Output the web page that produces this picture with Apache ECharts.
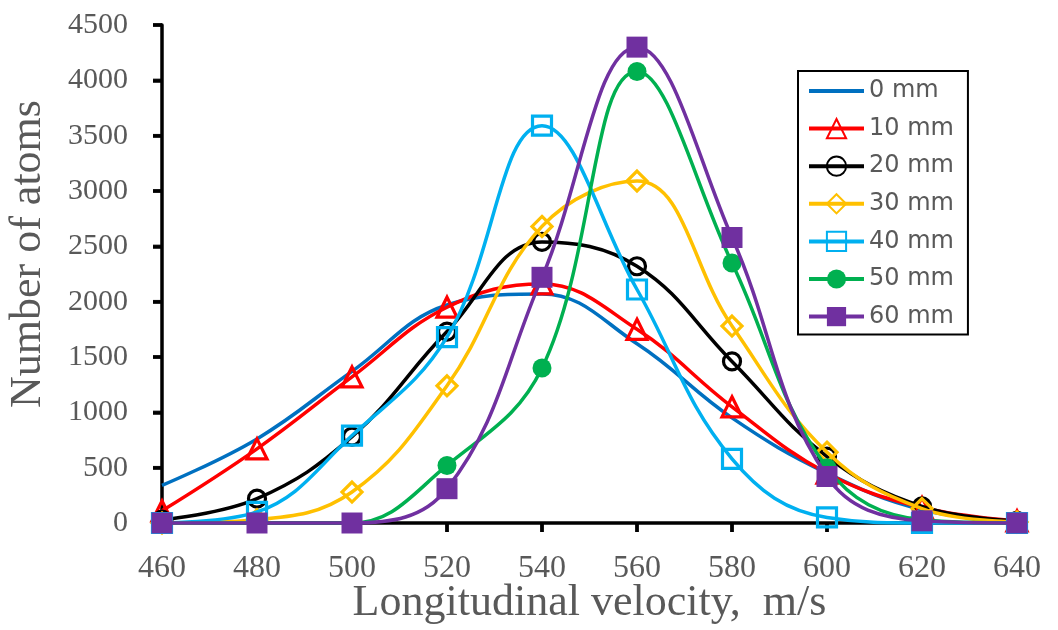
<!DOCTYPE html>
<html><head><meta charset="utf-8">
<script src="https://cdn.jsdelivr.net/npm/echarts@6/dist/echarts.min.js"></script>
<style>html,body{margin:0;padding:0;background:#fff}#c{width:1058px;height:630px}</style>
</head><body><div id="c"></div>
<script>
const velocities = [460, 480, 500, 520, 540, 560, 580, 600, 620, 640];
const names = ['0 mm', '10 mm', '20 mm', '30 mm', '40 mm', '50 mm', '60 mm'];
const mm0  = [340, 760, 1370, 1970, 2070, 1620, 950, 450, 120, 20];
const mm10 = [110, 670, 1320, 1950, 2160, 1750, 1050, 450, 140, 20];
const mm20 = [30, 220, 780, 1730, 2540, 2320, 1460, 600, 150, 20];
const mm30 = [0, 30, 280, 1240, 2680, 3090, 1780, 640, 130, 10];
const mm40 = [0, 100, 790, 1680, 3590, 2110, 580, 50, 0, 0];
const mm50 = [0, 0, 0, 520, 1400, 4080, 2350, 500, 30, 0];
const mm60 = [0, 0, 0, 310, 2220, 4300, 2580, 420, 20, 0];
const yTicks = [0, 500, 1000, 1500, 2000, 2500, 3000, 3500, 4000, 4500];

const colors = ['#0070C0', '#FF0000', '#000000', '#FFC000', '#00B0F0', '#00B050', '#7030A0'];
const symbols = ['none', 'triangle', 'circle', 'diamond', 'rect', 'circle', 'rect'];
const sizes = [0, 20, 17, 20, 19, 19, 21];
const hollow = [false, true, true, true, true, false, false];
const data = [mm0, mm10, mm20, mm30, mm40, mm50, mm60];

const series = names.map((n, i) => ({
  name: n,
  type: 'line',
  smooth: 0.4,
  data: velocities.map((v, k) => [v, data[i][k]]),
  symbol: symbols[i],
  symbolSize: sizes[i],
  showSymbol: symbols[i] !== 'none',
  lineStyle: {color: colors[i], width: 3.5},
  itemStyle: hollow[i]
    ? {color: 'rgba(255,255,255,0)', borderColor: colors[i], borderWidth: 3.2}
    : {color: colors[i], borderColor: colors[i], borderWidth: 0},
  z: 2 + i,
  clip: false
}));

// tick marks drawn as tiny rect symbols through the axes' own scales
const tickLen = 9, tickW = 3.5;
series.push({
  type: 'scatter', silent: true, clip: false, z: 1,
  data: velocities.map(v => [v, yTicks[0]]),
  symbol: 'rect', symbolSize: [tickW, tickLen], symbolOffset: [0, tickLen / 2],
  itemStyle: {color: '#000'}, tooltip: {show: false}
});
series.push({
  type: 'scatter', silent: true, clip: false, z: 1,
  data: yTicks.map(v => [velocities[0], v]),
  symbol: 'rect', symbolSize: [tickLen, tickW], symbolOffset: [-tickLen / 2, 0],
  itemStyle: {color: '#000'}, tooltip: {show: false}
});

const serif = '"Liberation Serif", "DejaVu Serif", serif';
const legendData = names.map((n, i) => i === 0
  ? {name: n, icon: 'path://M0,0 L55,0 L55,4 L0,4 Z', itemStyle: {color: colors[0]}}
  : {name: n});

const chart = echarts.init(document.getElementById('c'));
chart.setOption({
  animation: false,
  grid: {left: 162, right: 41, top: 25, bottom: 107, containLabel: false, outerBoundsMode: 'none'},
  xAxis: {
    type: 'value', min: 460, max: 640, interval: 20,
    name: 'Longitudinal velocity,  m/s', nameLocation: 'middle', nameGap: 58, nameMoveOverlap: false,
    nameTextStyle: {fontFamily: serif, fontSize: 44, color: '#595959'},
    axisLine: {show: true, onZero: false, lineStyle: {color: '#000', width: 3.5}},
    axisTick: {show: true, inside: false, length: 9, lineStyle: {color: '#000', width: 3.5}},
    axisLabel: {fontFamily: serif, fontSize: 32, color: '#595959', margin: 30},
    splitLine: {show: false}
  },
  yAxis: {
    type: 'value', min: 0, max: 4500, interval: 500,
    name: 'Number of atoms', nameLocation: 'middle', nameGap: 112, nameMoveOverlap: false,
    nameTextStyle: {fontFamily: serif, fontSize: 44, color: '#595959', padding: [0, 0, 0, 40]},
    axisLine: {show: true, onZero: false, lineStyle: {color: '#000', width: 3.5}},
    axisTick: {show: true, inside: false, length: 9, lineStyle: {color: '#000', width: 3.5}},
    axisLabel: {fontFamily: serif, fontSize: 30, color: '#595959', margin: 34,
      formatter: v => yTicks.includes(v) ? String(v) : ''},
    splitLine: {show: false}
  },
  legend: {
    orient: 'vertical', left: 798, top: 71,
    padding: [8, 14, 6, 9],
    itemWidth: 55, itemHeight: 24, itemGap: 13.6,
    borderColor: '#000', borderWidth: 2,
    backgroundColor: '#fff',
    lineStyle: {width: 4},
    textStyle: {fontFamily: '"DejaVu Sans", sans-serif', fontSize: 24, color: '#595959'},
    data: legendData
  },
  series: series
});
</script></body></html>
